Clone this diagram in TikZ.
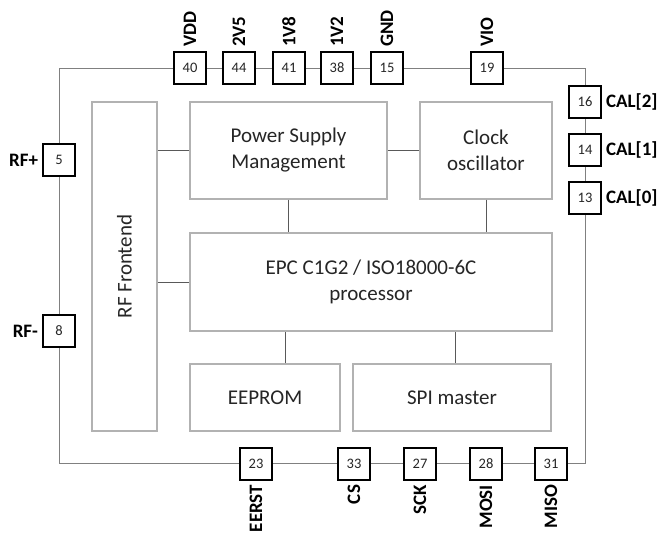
\documentclass[tikz,border=0pt]{standalone}
\usepackage{fontspec}
\setmainfont{Carlito}
\begin{document}
\begin{tikzpicture}[x=1pt,y=-1pt,
  pin/.style={draw=black,line width=1.6pt,fill=white,minimum size=32pt,inner sep=0pt,font=\fontsize{14.5}{14.5}\selectfont,text=black!85},
  blk/.style={draw=black!30,line width=1.2pt,fill=white,inner sep=0pt,align=center,font=\fontsize{21}{26}\selectfont,text=black!85},
  lab/.style={font=\bfseries\fontsize{19}{19}\selectfont,inner xsep=4pt,inner ysep=1.5pt},
  wire/.style={draw=black!50,line width=0.8pt},
  conn/.style={draw=black!65,line width=0.8pt}]
\useasboundingbox (0,0) rectangle (664,540);
% outer border
\coordinate (tl) at (59,68);
\coordinate (br) at (585,463);
\draw[wire] (tl) rectangle (br);
% blocks
\node[blk,minimum width=65pt,minimum height=329pt] (rf) at (124.5,266.5) {};
\node[rotate=90,font=\fontsize{21}{26}\selectfont,text=black!85] (rft) at (rf.center) {RF Frontend};
\node[blk,minimum width=197pt,minimum height=97pt] (psm) at (288.5,150.5) {Power Supply\\Management};
\node[blk,minimum width=132pt,minimum height=97pt] (clk) at (486,150.5) {Clock\\oscillator};
\node[blk,minimum width=362pt,minimum height=98pt] (epc) at (371,282) {EPC C1G2 / ISO18000-6C\\processor};
\node[blk,minimum width=150pt,minimum height=67pt] (eep) at (265,397.5) {EEPROM};
\node[blk,minimum width=198pt,minimum height=67pt] (spi) at (452,397.5) {SPI master};
% internal connectors
\draw[conn] (rf.east |- psm) -- (psm.west);
\draw[conn] (psm.east) -- (clk.west);
\draw[conn] (rf.east |- epc) -- (epc.west);
\draw[conn] (psm.south) -- (psm.south |- epc.north);
\draw[conn] (clk.south) -- (clk.south |- epc.north);
\draw[conn] ([xshift=20pt]eep.north) -- ([xshift=20pt]eep.north |- epc.south);
\draw[conn] ([xshift=3pt]spi.north) -- ([xshift=3pt]spi.north |- epc.south);
% top pins
\node[pin] (p40) at (190,68) {40};
\node[pin] (p44) at (239,68) {44};
\node[pin] (p41) at (289,68) {41};
\node[pin] (p38) at (337,68) {38};
\node[pin] (p15) at (387,68) {15};
\node[pin] (p19) at (487,68) {19};
\node[lab,rotate=90,anchor=west] (l40) at (p40.north) {VDD};
\node[lab,rotate=90,anchor=west] (l44) at (p44.north) {2V5};
\node[lab,rotate=90,anchor=west] (l41) at (p41.north) {1V8};
\node[lab,rotate=90,anchor=west] (l38) at (p38.north) {1V2};
\node[lab,rotate=90,anchor=west] (l15) at (p15.north) {GND};
\node[lab,rotate=90,anchor=west] (l19) at (p19.north) {VIO};
% right pins
\node[pin] (p16) at (585,102) {16};
\node[pin] (p14) at (585,150) {14};
\node[pin] (p13) at (585,198) {13};
\node[lab,anchor=west] (l16) at (p16.east) {CAL[2]};
\node[lab,anchor=west] (l14) at (p14.east) {CAL[1]};
\node[lab,anchor=west] (l13) at (p13.east) {CAL[0]};
% left pins
\node[pin] (p5) at (59,160) {5};
\node[pin] (p8) at (59,331) {8};
\node[lab,anchor=east] (l5) at (p5.west) {RF+};
\node[lab,anchor=east] (l8) at (p8.west) {RF-};
% bottom pins
\node[pin] (p23) at (256,464) {23};
\node[pin] (p33) at (354,464) {33};
\node[pin] (p27) at (420,464) {27};
\node[pin] (p28) at (486,464) {28};
\node[pin] (p31) at (551,464) {31};
\node[lab,rotate=90,anchor=east] (l23) at (p23.south) {EERST};
\node[lab,rotate=90,anchor=east] (l33) at (p33.south) {CS};
\node[lab,rotate=90,anchor=east] (l27) at (p27.south) {SCK};
\node[lab,rotate=90,anchor=east] (l28) at (p28.south) {MOSI};
\node[lab,rotate=90,anchor=east] (l31) at (p31.south) {MISO};
\end{tikzpicture}
\end{document}
